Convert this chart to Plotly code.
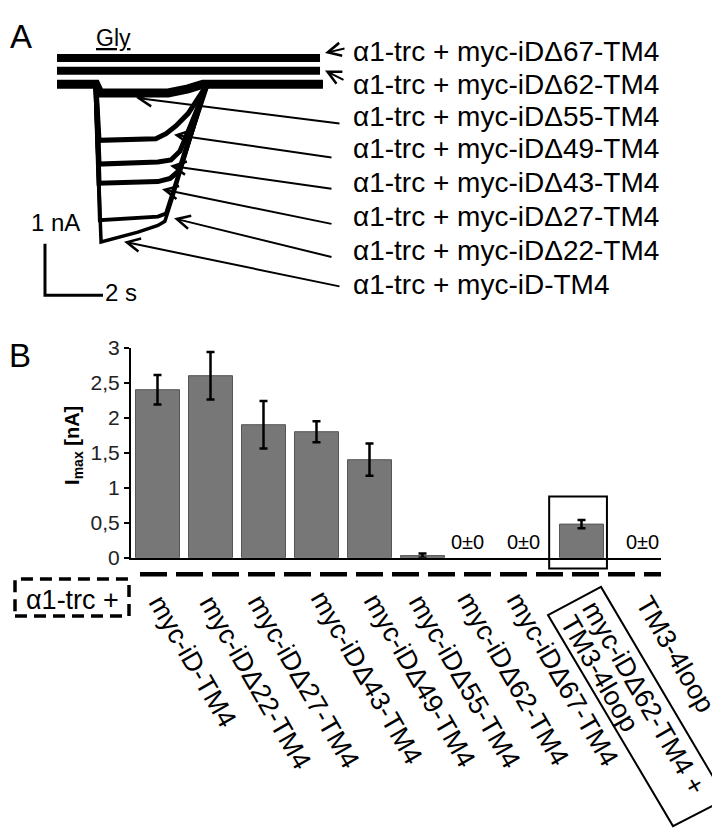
import plotly.graph_objects as go

W, H = 720, 832
FONT = "Liberation Sans, Arial, Helvetica, sans-serif"


def px(x):
    return x / W


def py(y):
    return 1 - y / H


# ---------------- Panel A: representative current traces ----------------
# time in s, current in nA (relative to each trace's own baseline)
t_d67 = [0.0, 9.07]
i_d67 = [0.0, 0.0]
t_d62 = [0.0, 9.07]
i_d62 = [0.0, 0.0]
t_d55 = [0.0, 1.34, 1.48, 2.79, 3.83, 4.52, 5.03, 9.17]
i_d55 = [0.0, 0.0, -0.17, -0.19, -0.17, -0.09, 0.0, 0.0]
t_d49 = [0.0, 1.34, 1.45, 2.45, 3.41, 3.76, 4.10, 4.52, 4.86, 5.14, 5.38, 9.17]
i_d49 = [0.0, 0.0, -1.09, -1.08, -1.06, -0.96, -0.81, -0.57, -0.30, -0.04, 0.0, 0.0]
t_d43 = [0.0, 1.34, 1.45, 2.45, 3.48, 3.93, 4.24, 4.52, 4.79, 5.00, 5.17, 5.38, 9.17]
i_d43 = [0.0, 0.0, -1.55, -1.53, -1.51, -1.47, -1.30, -0.92, -0.57, -0.25, -0.02, 0.0, 0.0]
t_d27 = [0.0, 1.34, 1.45, 2.45, 3.48, 3.90, 4.21, 4.52, 4.79, 5.00, 5.17, 5.38, 9.17]
i_d27 = [0.0, 0.0, -1.92, -1.91, -1.89, -1.83, -1.68, -1.13, -0.64, -0.26, -0.02, 0.0, 0.0]
t_d22 = [0.0, 1.34, 1.48, 2.10, 2.79, 3.48, 3.76, 4.00, 4.34, 4.69, 4.97, 5.14, 5.38, 9.17]
i_d22 = [0.0, 0.0, -2.64, -2.62, -2.60, -2.57, -2.51, -2.11, -1.49, -0.87, -0.34, -0.04, 0.0, 0.0]
t_iD = [0.0, 1.31, 1.52, 2.10, 2.79, 3.48, 3.72, 4.00, 4.34, 4.69, 4.97, 5.14, 5.38, 9.17]
i_iD = [0.0, 0.0, -3.06, -2.98, -2.87, -2.74, -2.66, -2.17, -1.55, -0.92, -0.36, -0.04, 0.0, 0.0]

# vertical display offsets of the sweeps (nA)
off_d67 = 0.51
off_d62 = 0.26

TRACE_LABELS = [
    "α1-trc + myc-iDΔ67-TM4",
    "α1-trc + myc-iDΔ62-TM4",
    "α1-trc + myc-iDΔ55-TM4",
    "α1-trc + myc-iDΔ49-TM4",
    "α1-trc + myc-iDΔ43-TM4",
    "α1-trc + myc-iDΔ27-TM4",
    "α1-trc + myc-iDΔ22-TM4",
    "α1-trc + myc-iD-TM4",
]

# scale bar
SCALE_T = 2.0   # s
SCALE_I = 1.0   # nA
SCALE_T0 = -0.414
SCALE_I0 = -4.094

# ---------------- Panel B: Imax bar chart ----------------
CATS = [
    "myc-iD-TM4",
    "myc-iDΔ22-TM4",
    "myc-iDΔ27-TM4",
    "myc-iDΔ43-TM4",
    "myc-iDΔ49-TM4",
    "myc-iDΔ55-TM4",
    "myc-iDΔ62-TM4",
    "myc-iDΔ67-TM4",
    "myc-iDΔ62-TM4 + TM3-4loop",
    "TM3-4loop",
]
IMAX = [2.40, 2.60, 1.90, 1.80, 1.40, 0.03, 0.0, 0.0, 0.48, 0.0]
SEM = [0.21, 0.34, 0.34, 0.15, 0.23, 0.03, 0.0, 0.0, 0.06, 0.0]
Y_TICKS = [0, 0.5, 1, 1.5, 2, 2.5, 3]

fig = go.Figure()

# --- traces ---
sweeps = [
    (t_d67, [v + off_d67 for v in i_d67], 8),
    (t_d62, [v + off_d62 for v in i_d62], 8),
    (t_iD, i_iD, 3.5),
    (t_d22, i_d22, 4),
    (t_d27, i_d27, 5),
    (t_d43, i_d43, 5),
    (t_d49, i_d49, 5),
    (t_d55, i_d55, 9),
]
for t, i, w in sweeps:
    fig.add_trace(go.Scatter(x=t, y=i, mode="lines", xaxis="x", yaxis="y",
                             line=dict(color="black", width=w),
                             hoverinfo="skip", showlegend=False))

# scale bar
fig.add_trace(go.Scatter(
    x=[SCALE_T0, SCALE_T0, SCALE_T0 + SCALE_T],
    y=[SCALE_I0 + SCALE_I, SCALE_I0, SCALE_I0],
    mode="lines", xaxis="x", yaxis="y",
    line=dict(color="black", width=3), hoverinfo="skip", showlegend=False))

# --- bars ---
fig.add_trace(go.Bar(
    x=CATS, y=IMAX, xaxis="x2", yaxis="y2", width=0.83,
    marker=dict(color="#777777",
                line=dict(color="#555555", width=[1 if v > 0 else 0 for v in IMAX])),
    hoverinfo="skip", showlegend=False))

# error bars only where an error exists
err_x = [c for c, s in zip(CATS, SEM) if s > 0]
err_y = [v for v, s in zip(IMAX, SEM) if s > 0]
err_s = [s for s in SEM if s > 0]
fig.add_trace(go.Scatter(
    x=err_x, y=err_y, xaxis="x2", yaxis="y2", mode="markers",
    marker=dict(size=1, color="rgba(0,0,0,0)"),
    error_y=dict(type="data", array=err_s, color="black", thickness=2.5, width=4),
    hoverinfo="skip", showlegend=False))

ann = []

# Panel letters
ann.append(dict(text="A", x=px(13), y=py(17), font=dict(size=33)))
ann.append(dict(text="B", x=px(12), y=py(345), font=dict(size=33)))
# Gly application
ann.append(dict(text="<u>Gly</u>", x=px(105), y=py(18), font=dict(size=23)))
# scale labels
ann.append(dict(text="1 nA", x=px(47), y=py(208), font=dict(size=24)))
ann.append(dict(text="2 s", x=px(113), y=py(280), font=dict(size=24)))

# trace labels
label_y = [32, 66, 99, 132, 167, 202, 237, 272]
for lab, yc in zip(TRACE_LABELS, label_y):
    ann.append(dict(text=lab, x=px(343), y=py(yc), xanchor="left",
                    font=dict(size=28)))

# arrows: (head x, head y, tail x, tail y) in pixels
ARROWS = [
    (317, 34, 338, 29),
    (317, 52, 337, 62),
    (128, 80, 333, 106),
    (166, 118, 325, 141),
    (162, 150, 325, 173),
    (154, 174, 325, 209),
    (166, 204, 325, 243),
    (116, 228, 333, 273),
]
for hx, hy, tx, ty in ARROWS:
    ann.append(dict(text="", x=px(hx), y=py(hy), ax=tx - hx, ay=ty - hy,
                    showarrow=True, arrowhead=5, arrowsize=1.3, arrowwidth=2,
                    arrowcolor="black"))

# y-axis title
ann.append(dict(text="<b>I<sub>max</sub> [nA]</b>", x=px(66), y=py(438),
                textangle=-90, font=dict(size=20)))

# 0±0 labels
for idx, xs in [(6, -8), (7, -5), (9, 8)]:
    ann.append(dict(text="0±0", x=idx, y=0, xref="x2", yref="y2",
                    yanchor="bottom", yshift=3, xshift=xs, font=dict(size=20)))

# rotated category labels (centres in pixels)
ROT_POS = [(185, 660), (247, 681), (295, 680), (358, 676), (411, 679),
           (456, 680), (505, 678), (554, 678)]
for lab, (cx, cy) in zip(CATS[:8], ROT_POS):
    ann.append(dict(text=lab, x=px(cx), y=py(cy), textangle=60,
                    font=dict(size=27)))
ann.append(dict(text="myc-iDΔ62-TM4 +", x=px(636), y=py(697), textangle=60,
                font=dict(size=27)))
ann.append(dict(text="TM3-4loop", x=px(591), y=py(672), textangle=60,
                font=dict(size=27)))
ann.append(dict(text=CATS[9], x=px(667), y=py(652), textangle=60,
                font=dict(size=27)))

# "α1-trc +" label
ann.append(dict(text="α1-trc +", x=px(64), y=py(596), font=dict(size=27)))

for a in ann:
    a.setdefault("xref", "paper")
    a.setdefault("yref", "paper")
    a.setdefault("showarrow", False)
    a.setdefault("xanchor", "center")
    a.setdefault("yanchor", "middle")

shapes = [
    # box around combined bar
    dict(type="rect", xref="x2", yref="paper", x0=7.39, x1=8.48,
         y0=py(564), y1=py(490), line=dict(color="black", width=2)),
    # dashed line under axis
    dict(type="line", xref="paper", yref="paper", x0=px(132), x1=px(653),
         y0=py(570), y1=py(570), line=dict(color="black", width=4.5, dash="27px,9px")),
    # dashed box around α1-trc +
    dict(type="rect", xref="paper", yref="paper", x0=px(7), x1=px(121),
         y0=py(613), y1=py(575), line=dict(color="black", width=3.5, dash="12px,7px")),
    # rotated box around combined label
    dict(type="path", xref="paper", yref="paper",
         path="M {},{} L {},{} L {},{} L {},{} Z".format(
             px(540), py(612), px(593), py(583), px(718), py(801), px(665), py(829)),
         line=dict(color="black", width=2)),
]

fig.update_layout(
    width=W, height=H, margin=dict(l=0, r=0, t=0, b=0),
    paper_bgcolor="white", plot_bgcolor="rgba(0,0,0,0)",
    showlegend=False, separators=",.",
    font=dict(family=FONT, color="black"),
    xaxis=dict(domain=[px(30), px(330)], range=[-0.655, 9.69], visible=False),
    yaxis=dict(domain=[py(300), py(20)], range=[-4.415, 0.868], visible=False),
    xaxis2=dict(domain=[px(123), px(653)], anchor="y2", type="category",
                categoryorder="array", categoryarray=CATS,
                range=[-0.5, 9.5], showline=True, linecolor="black", linewidth=1.5,
                showticklabels=False, ticks="", showgrid=False, zeroline=False),
    yaxis2=dict(domain=[py(553), py(337)], anchor="x2", range=[0, 3],
                tickvals=Y_TICKS, showline=True, linecolor="black", linewidth=2,
                ticks="outside", ticklen=5, tickwidth=2, tickcolor="black",
                tickfont=dict(size=21, color="#222222"),
                showgrid=False, zeroline=False),
    annotations=ann,
    shapes=shapes,
)

fig.write_html("out.html")
